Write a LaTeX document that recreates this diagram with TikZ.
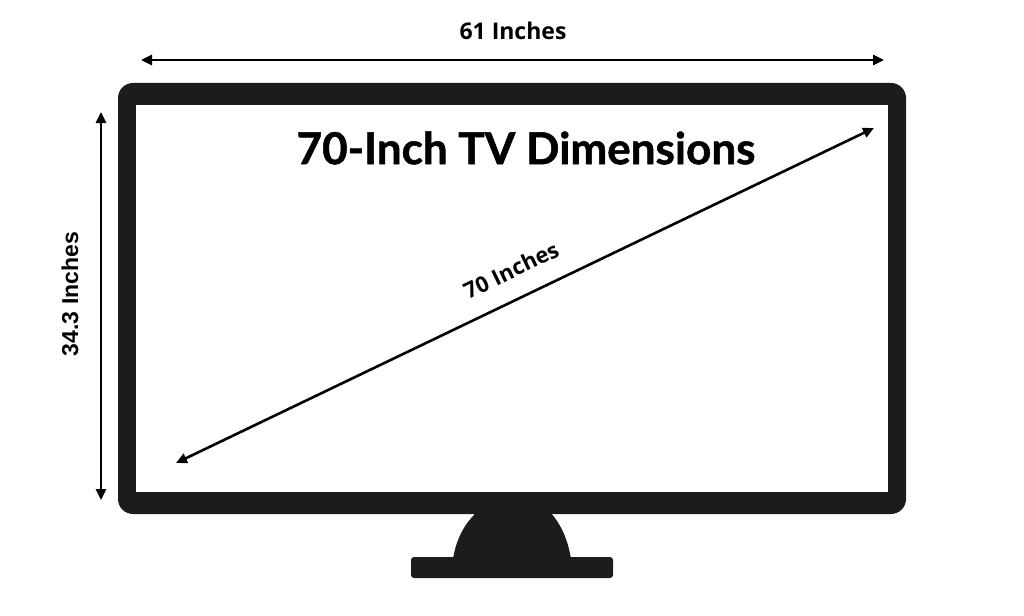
\documentclass[tikz,border=0pt]{standalone}
\usepackage{fontspec}
\setmainfont{Liberation Sans}
\newfontfamily\titlefont{Lato}[BoldFeatures={FakeBold=1.2}]
\newfontfamily\opensans{Open Sans}
\usetikzlibrary{arrows.meta}
\definecolor{tvdark}{HTML}{1C1C1C}
\tikzset{
  dimarrow/.style={line width=2.6pt, black, {Triangle[length=11pt,width=10pt]}-{Triangle[length=11pt,width=10pt]}},
  tvbody/.style={fill=tvdark, draw=none},
  lbl/.style={inner sep=0pt, text=black}
}
\begin{document}
\begin{tikzpicture}[x=1pt,y=-1pt]
\useasboundingbox (0,0) rectangle (1024,615);
\fill[white] (0,0) rectangle (1024,615);
% TV frame
\fill[tvbody, rounded corners=15pt] (118,83) rectangle (906,514);
\fill[white] (136,105) rectangle (888,492);
% stand neck
\fill[tvbody] (477,512) -- (550,512) .. controls (561,524) and (568,540) .. (571,559)
  -- (453,559) .. controls (456,540) and (464,524) .. (477,512) -- cycle;
% stand base
\fill[tvbody, rounded corners=3pt] (411,557) rectangle (613,578);
% coordinates
\coordinate (wl) at (141,60);
\coordinate (wr) at (884,60);
\coordinate (ht) at (101,112);
\coordinate (hb) at (101,500);
\coordinate (dl) at (176,463);
\coordinate (dr) at (874,128);
% arrows
\draw[dimarrow] (wl) -- (wr);
\draw[dimarrow] (ht) -- (hb);
\draw[dimarrow] (dl) -- (dr);
% labels
\node[lbl, font=\opensans\bfseries\fontsize{23}{27}\selectfont] (wlab) at (513,31) {61 Inches};
\node[lbl, font=\bfseries\fontsize{23}{27}\selectfont, rotate=90] (hlab) at (70,294) {34.3 Inches};
\node[lbl, font=\opensans\bfseries\fontsize{22}{26}\selectfont, rotate=25.6] (dlab) at (511,270) {70 Inches};
\node[lbl, font=\titlefont\bfseries\fontsize{44}{50}\selectfont] (title) at (526,148) {70-Inch TV Dimensions};
\end{tikzpicture}
\end{document}
